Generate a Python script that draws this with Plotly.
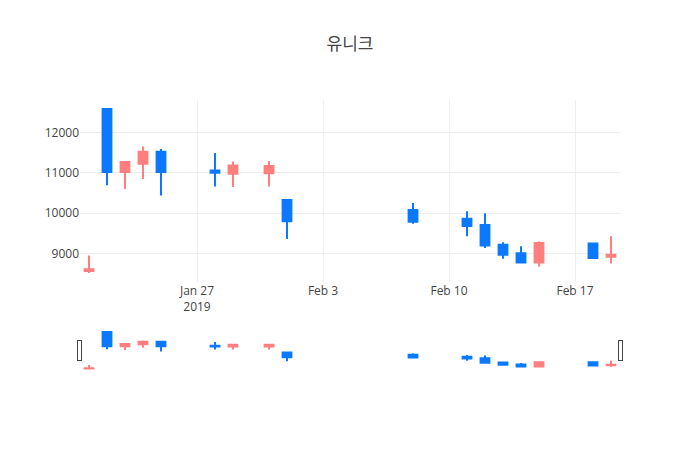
import plotly.graph_objects as go

dates = ["2019-01-21", "2019-01-22", "2019-01-23", "2019-01-24", "2019-01-25",
         "2019-01-28", "2019-01-29", "2019-01-31", "2019-02-01", "2019-02-08",
         "2019-02-11", "2019-02-12", "2019-02-13", "2019-02-14", "2019-02-15",
         "2019-02-18", "2019-02-19"]
open_ = [8570, 12580, 11020, 11225, 11520, 11060, 10980, 10990, 10330, 10080,
         9860, 9710, 9220, 9010, 8780, 9250, 8920]
high = [8950, 12580, 11270, 11650, 11590, 11490, 11280, 11290, 10350, 10250,
        10050, 10000, 9280, 9180, 9300, 9250, 9430]
low = [8520, 10690, 10600, 10850, 10440, 10660, 10650, 10660, 9360, 9740,
       9430, 9140, 8870, 8750, 8680, 8890, 8750]
close = [8610, 11020, 11270, 11520, 11020, 11000, 11180, 11170, 9800, 9790,
         9680, 9200, 8970, 8780, 9260, 8890, 8970]

fig = go.Figure(go.Candlestick(
    x=dates, open=open_, high=high, low=low, close=close,
    increasing=dict(line=dict(color="#ff7f7f"), fillcolor="#ff7f7f"),
    decreasing=dict(line=dict(color="#0a78ff"), fillcolor="#0a78ff"),
))
fig.update_layout(
    title=dict(text="유니크", x=0.5),
    width=700, height=450,
    font=dict(family="Open Sans, Noto Sans CJK KR, sans-serif", color="#444"),
    template="none",
    showlegend=False,
    margin=dict(l=80, r=80, t=100, b=80),
)
fig.update_yaxes(tickformat="d", gridcolor="#eee")
fig.update_xaxes(gridcolor="#eee")
fig.write_html("out.html")
